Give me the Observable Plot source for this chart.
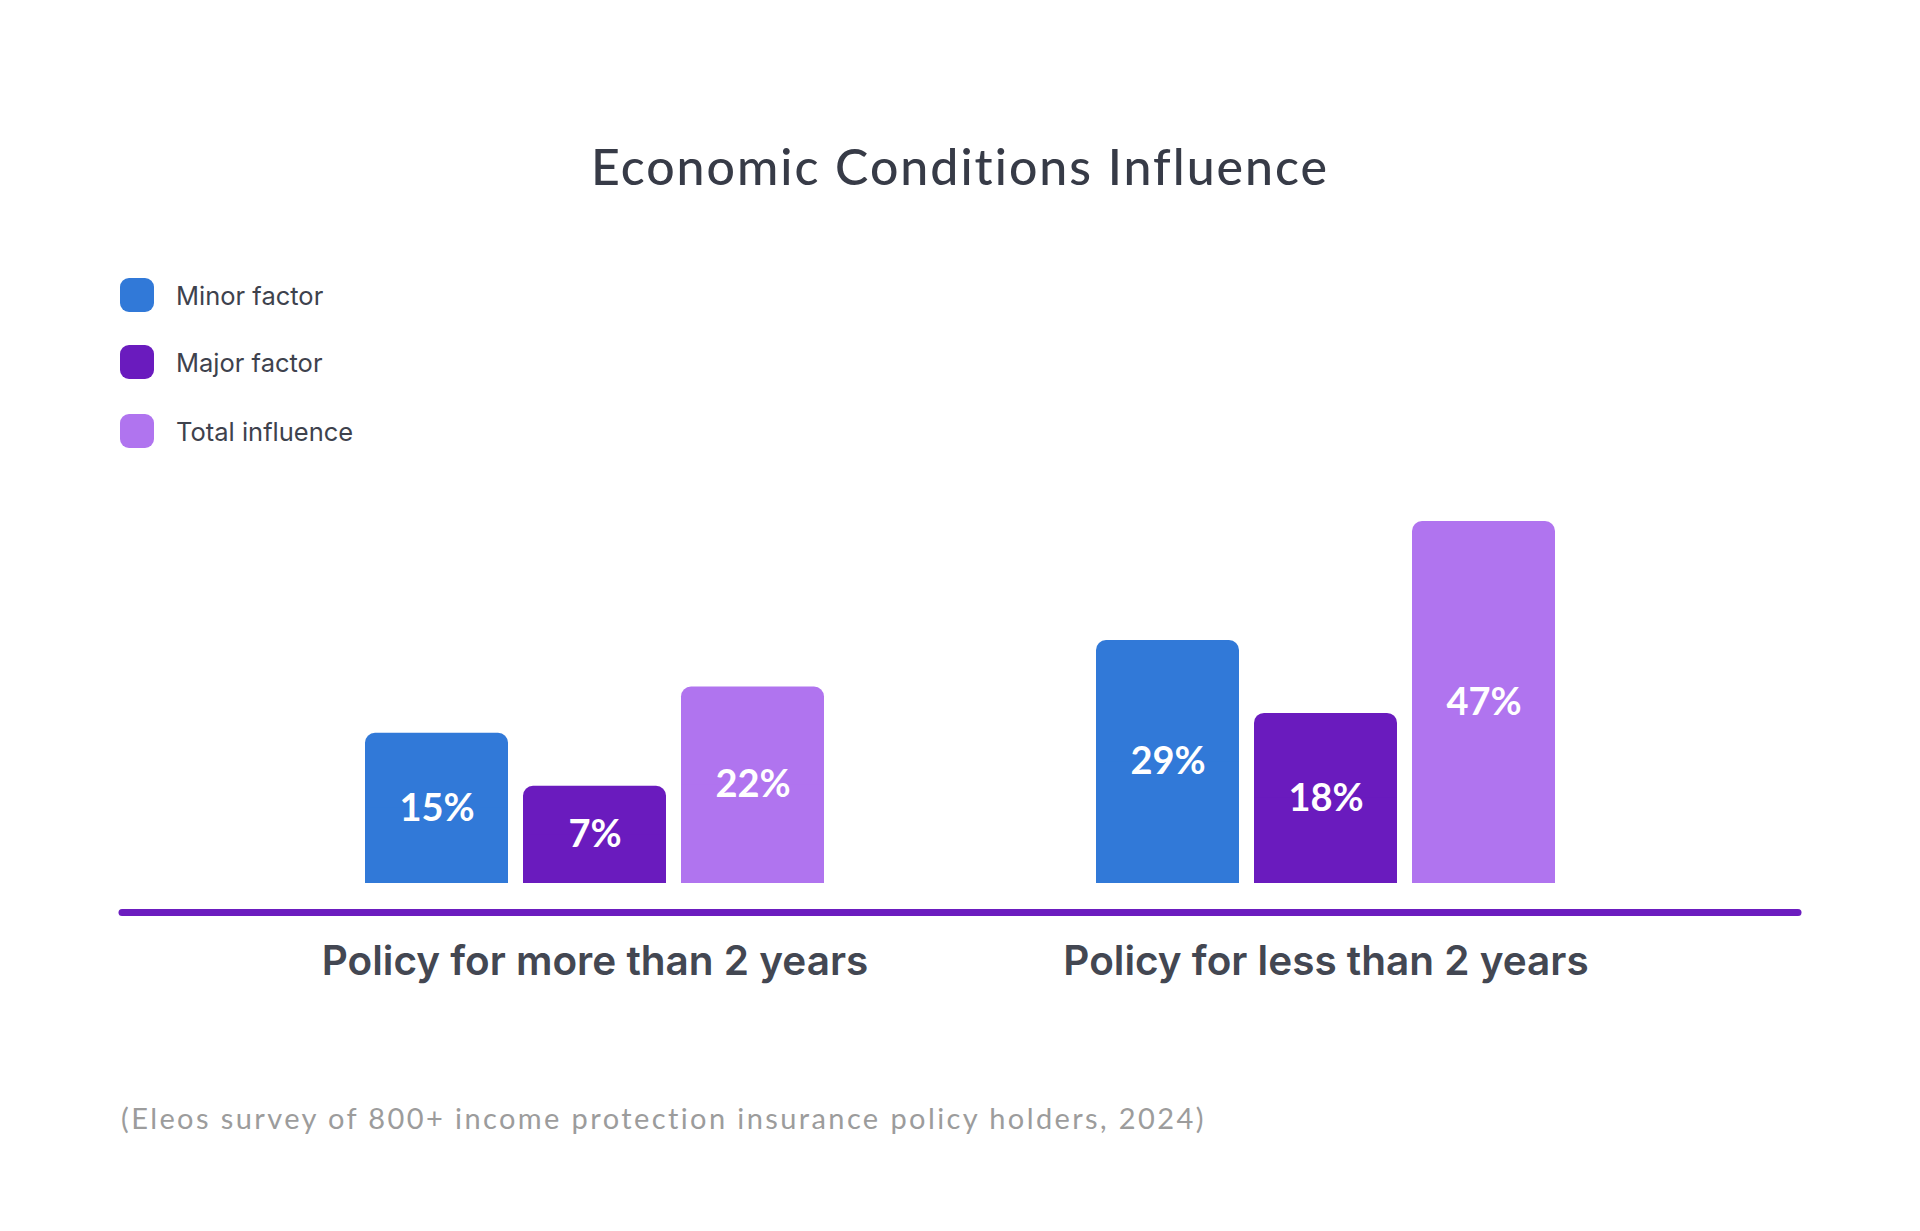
<!DOCTYPE html>
<html>
<head>
<meta charset="utf-8">
<script src="https://cdn.jsdelivr.net/npm/d3@7"></script>
<script src="https://cdn.jsdelivr.net/npm/@observablehq/plot@0.6"></script>
<style>
  html, body { margin: 0; padding: 0; background: #ffffff; }
  #wrap { position: relative; width: 1920px; height: 1231px; background: #fff; overflow: hidden; }
  #title { position: absolute; left: 0; top: 136px; width: 1920px; height: 60px; line-height: 60px;
    text-align: center; font-family: Lato, sans-serif; font-weight: 500; font-size: 50px; color: #373b47; letter-spacing: 2px; }
  #legend { position: absolute; left: 120px; top: 278px; }
  .row { position: absolute; left: 0; height: 34px; display: flex; align-items: center; white-space: nowrap; }
  .sw { width: 34px; height: 34px; border-radius: 9px; margin-right: 22px; flex: none; }
  .lab { font-family: Inter, "Open Sans", sans-serif; font-size: 25.5px; color: #3e424d; }
  #chart { position: absolute; left: 0; top: 480px; }
  #caption { position: absolute; left: 121px; top: 1098px; height: 40px; line-height: 40px; white-space: nowrap;
    font-family: Lato, sans-serif; font-size: 29px; color: #9c9c9c; letter-spacing: 2.4px; }
</style>
</head>
<body>
<div id="wrap">
  <div id="title"></div>
  <div id="legend"></div>
  <div id="chart"></div>
  <div id="caption"></div>
</div>
<script>
// ---- data ----
const titleText = "Economic Conditions Influence";
const captionText = "(Eleos survey of 800+ income protection insurance policy holders, 2024)";
const groups = ["Policy for more than 2 years", "Policy for less than 2 years"];
const series = ["Minor factor", "Major factor", "Total influence"];
const minorValues = [15, 29];
const majorValues = [7, 18];
const totalValues = [22, 47];
const palette = ["#3179d8", "#6a1bbe", "#b074ef"];

// ---- build table ----
const valuesBySeries = [minorValues, majorValues, totalValues];
const table = [];
groups.forEach((g, gi) => {
  series.forEach((s, si) => {
    table.push({group: g, series: s, value: valuesBySeries[si][gi]});
  });
});

const yBase = -7.7; // baseline of the value scale used by the bars

document.getElementById("title").textContent = titleText;
document.getElementById("caption").textContent = captionText;

const legend = document.getElementById("legend");
const rowTops = [0, 67, 136];
series.forEach((s, i) => {
  const row = document.createElement("div");
  row.className = "row";
  row.style.top = rowTops[i] + "px";
  const sw = document.createElement("div");
  sw.className = "sw";
  sw.style.background = palette[i];
  const lab = document.createElement("div");
  lab.className = "lab";
  lab.textContent = s;
  row.appendChild(sw);
  row.appendChild(lab);
  legend.appendChild(row);
});

const chart = Plot.plot({
  width: 1920,
  height: 560,
  marginLeft: 120,
  marginRight: 120,
  marginTop: 41,
  marginBottom: 157,
  style: {background: "transparent", overflow: "visible"},
  fx: {domain: groups, paddingInner: 0.372, paddingOuter: 0.335, axis: null},
  x: {domain: series, paddingInner: 0.095, paddingOuter: 0, axis: null},
  y: {domain: [yBase, 47], axis: null},
  color: {domain: series, range: palette},
  marks: [
    Plot.ruleY([yBase], {stroke: "#6c1dbf", strokeWidth: 7, dy: 29, insetLeft: -243, insetRight: -243, strokeLinecap: "round"}),
    Plot.barY(table, {fx: "group", x: "series", y1: yBase, y2: "value", fill: "series", rx: 10}),
    Plot.barY(table, {fx: "group", x: "series", y1: yBase, y2: d => (yBase + d.value) / 2, fill: "series"}),
    Plot.text(table, {
      fx: "group", x: "series", y: d => (yBase + d.value) / 2,
      text: d => d.value + "%",
      fill: "white", fontSize: 38, fontWeight: 700, fontFamily: "Lato, sans-serif"
    }),
    Plot.axisFx({
      anchor: "bottom", tickSize: 0, tickPadding: 63, fontSize: 40.5,
      fontFamily: "Inter, 'Open Sans', sans-serif", fontWeight: 600, fill: "#434752", label: null
    })
  ]
});
document.getElementById("chart").appendChild(chart);
</script>
</body>
</html>
